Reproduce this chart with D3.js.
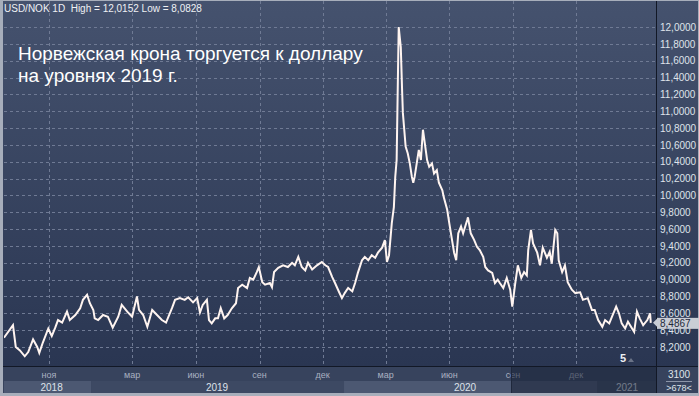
<!DOCTYPE html>
<html>
<head>
<meta charset="utf-8">
<script src="https://cdn.jsdelivr.net/npm/d3@7"></script>
<style>
  html, body { margin: 0; padding: 0; background: #3a4661; }
  svg { display: block; font-family: "Liberation Sans", Arial, sans-serif; }
</style>
</head>
<body>
<div id="chart"></div>
<script>
// USD/NOK, daily closes
var dates = [
  "2018-08-28","2018-09-10","2018-09-14","2018-09-20","2018-09-27","2018-10-02","2018-10-09","2018-10-15","2018-10-18","2018-10-23",
  "2018-10-31","2018-11-05","2018-11-10","2018-11-14","2018-11-20","2018-11-27","2018-12-01","2018-12-09","2018-12-16","2018-12-20",
  "2018-12-26","2018-12-30","2019-01-04","2019-01-06","2019-01-11","2019-01-18","2019-01-25","2019-02-01","2019-02-09","2019-02-14",
  "2019-02-22","2019-03-01","2019-03-08","2019-03-11","2019-03-17","2019-03-23","2019-03-30","2019-04-06","2019-04-13","2019-04-19",
  "2019-04-28","2019-05-02","2019-05-09","2019-05-16","2019-05-21","2019-05-28","2019-06-03","2019-06-07","2019-06-11","2019-06-17",
  "2019-06-20","2019-06-24","2019-06-29","2019-07-03","2019-07-07","2019-07-12","2019-07-17","2019-07-23","2019-07-29","2019-08-01",
  "2019-08-07","2019-08-14","2019-08-18","2019-08-23","2019-08-28","2019-08-31","2019-09-05","2019-09-09","2019-09-16","2019-09-19",
  "2019-09-22","2019-09-28","2019-10-05","2019-10-12","2019-10-18","2019-10-22","2019-10-27","2019-11-01","2019-11-06","2019-11-10",
  "2019-11-16","2019-11-23","2019-11-30","2019-12-05","2019-12-09","2019-12-15","2019-12-19","2019-12-25","2019-12-29","2020-01-02",
  "2020-01-07","2020-01-13","2020-01-17","2020-01-21","2020-01-27","2020-01-31","2020-02-05","2020-02-10","2020-02-15","2020-02-19",
  "2020-02-25","2020-02-29","2020-03-03","2020-03-06","2020-03-10","2020-03-13","2020-03-15","2020-03-17","2020-03-19","2020-03-20",
  "2020-03-23","2020-03-25","2020-03-26","2020-03-28","2020-03-30","2020-04-02","2020-04-05","2020-04-08","2020-04-10","2020-04-12",
  "2020-04-15","2020-04-18","2020-04-21","2020-04-24","2020-04-26","2020-04-30","2020-05-03","2020-05-07","2020-05-10","2020-05-14",
  "2020-05-17","2020-05-22","2020-05-24","2020-05-29","2020-06-01","2020-06-05","2020-06-08","2020-06-11","2020-06-14","2020-06-18",
  "2020-06-21","2020-06-27","2020-06-28","2020-07-02","2020-07-07","2020-07-11","2020-07-15","2020-07-20","2020-07-23","2020-07-27",
  "2020-08-02","2020-08-06","2020-08-10","2020-08-13","2020-08-18","2020-08-23","2020-08-28","2020-08-31","2020-09-04","2020-09-08",
  "2020-09-13","2020-09-17","2020-09-21","2020-09-23","2020-09-27","2020-09-30","2020-10-06","2020-10-10","2020-10-14","2020-10-20",
  "2020-10-24","2020-10-27","2020-11-01","2020-11-04","2020-11-06","2020-11-11","2020-11-15","2020-11-19","2020-11-25","2020-11-30",
  "2020-12-07","2020-12-11","2020-12-18","2020-12-24","2020-12-28","2021-01-02","2021-01-08","2021-01-12","2021-01-18","2021-01-22",
  "2021-01-28","2021-02-01","2021-02-05","2021-02-10","2021-02-14","2021-02-20","2021-02-23","2021-02-27","2021-03-03","2021-03-08",
  "2021-03-14","2021-03-18","2021-03-19"
];
var closes = [
  8.31,8.46,8.20,8.16,8.09,8.14,8.29,8.20,8.13,8.25,
  8.42,8.33,8.43,8.52,8.49,8.62,8.52,8.58,8.66,8.76,
  8.82,8.72,8.64,8.54,8.52,8.58,8.56,8.43,8.56,8.70,
  8.62,8.56,8.80,8.64,8.58,8.44,8.64,8.58,8.52,8.49,
  8.67,8.76,8.78,8.76,8.79,8.73,8.78,8.61,8.70,8.76,
  8.52,8.48,8.54,8.54,8.66,8.54,8.58,8.66,8.72,8.90,
  8.94,8.90,9.02,9.00,9.09,9.15,8.97,8.94,8.96,8.91,
  9.09,9.14,9.17,9.15,9.20,9.17,9.27,9.15,9.11,9.20,
  9.12,9.17,9.21,9.17,9.15,9.03,8.96,8.85,8.78,8.84,
  8.90,8.86,8.96,9.08,9.23,9.27,9.23,9.29,9.26,9.32,
  9.38,9.47,9.21,9.29,9.67,9.86,10.22,10.42,11.49,12.00,
  11.76,11.22,10.98,10.78,10.58,10.50,10.38,10.22,10.15,10.22,
  10.38,10.54,10.42,10.78,10.66,10.42,10.34,10.38,10.26,10.30,
  10.15,10.06,9.98,9.83,9.67,9.47,9.32,9.23,9.55,9.63,
  9.55,9.71,9.74,9.55,9.47,9.39,9.35,9.27,9.15,9.11,
  9.08,8.96,9.00,8.96,8.90,9.02,8.88,8.68,8.94,9.17,
  9.02,9.09,9.05,9.35,9.59,9.43,9.32,9.17,9.38,9.26,
  9.33,9.19,9.59,9.55,9.23,9.09,9.17,8.97,8.88,8.84,
  8.85,8.76,8.78,8.64,8.64,8.52,8.44,8.52,8.48,8.56,
  8.68,8.60,8.48,8.42,8.50,8.42,8.38,8.62,8.54,8.46,
  8.52,8.60,8.4867
];
var priceTicks = [8.2,8.4,8.6,8.8,9.0,9.2,9.4,9.6,9.8,10.0,10.2,10.4,10.6,10.8,11.0,11.2,11.4,11.6,11.8,12.0];
var monthTicks = ["2018-11-01","2019-03-01","2019-06-01","2019-09-01","2019-12-01","2020-03-01","2020-06-01","2020-09-01","2020-12-01"];
var monthNames = ["янв","фев","мар","апр","май","июн","июл","авг","сен","окт","ноя","дек"];
var years = ["2018","2019","2020","2021"];
var headerText = "USD/NOK 1D  High = 12,0152 Low = 8,0828";
var titleLines = ["Норвежская крона торгуется к доллару", "на уровнях 2019 г."];

(function(){
    var width = 699;
    var height = 396;
    var plotLeft = 4, plotRight = 656, plotBottom = 366;
    var parse = d3.timeParse("%Y-%m-%d");
    var ru = d3.formatLocale({decimal: ",", thousands: " ", grouping: [3], currency: ["", ""]});
    var fmt = ru.format(".4f");

    var data = dates.map(function(d, i){ return {date: parse(d), value: closes[i]}; });

    var x = d3.scaleTime()
        .domain([parse("2018-11-01"), parse("2020-12-01")])
        .range([49, 576]);
    var y = d3.scaleLinear()
        .domain([8.2, 12.0])
        .range([347, 27]);

    var svg = d3.select("#chart")
        .append("svg")
        .attr("width", width)
        .attr("height", height);

    var defs = svg.append("defs");
    var grad = defs.append("linearGradient")
        .attr("id", "bg")
        .attr("x1", 0).attr("y1", 0).attr("x2", 0).attr("y2", 1);
    grad.append("stop").attr("offset", "0%").attr("stop-color", "#45526e");
    grad.append("stop").attr("offset", "100%").attr("stop-color", "#2a3652");
    defs.append("clipPath").attr("id", "plotclip")
        .append("rect").attr("x", plotLeft).attr("y", 0)
        .attr("width", plotRight - plotLeft).attr("height", plotBottom);

    // frame + backgrounds
    svg.append("rect").attr("width", width).attr("height", height).attr("fill", "#a7aebb");
    svg.append("rect").attr("x", 3).attr("y", 1).attr("width", width - 4).attr("height", plotBottom - 1)
        .attr("fill", "url(#bg)");
    svg.append("rect").attr("x", 3).attr("y", plotBottom).attr("width", width - 4).attr("height", 27)
        .attr("fill", "#37435d");

    // year bands
    var yearStarts = years.map(function(yy){ return parse(yy + "-01-01"); });
    var bands = svg.append("g");
    years.forEach(function(yy, i){
        var x0 = Math.max(plotLeft, x(yearStarts[i]));
        var x1 = i < years.length - 1 ? x(yearStarts[i + 1]) : plotRight;
        bands.append("rect")
            .attr("x", x0).attr("y", 381)
            .attr("width", x1 - x0).attr("height", 12)
            .attr("fill", i % 2 === 0 ? "#4c5872" : "#3d4963");
        var mid = i === 0 ? (x0 + x1) / 2 + 4 : (i === 3 ? 627 : (i === 1 ? 217 : 465));
        bands.append("text")
            .attr("x", mid).attr("y", 391)
            .attr("text-anchor", "middle")
            .attr("font-size", "10px")
            .attr("fill", "#dde2ea")
            .text(yy);
    });

    // month labels
    svg.append("g").selectAll("text")
        .data(monthTicks)
        .enter().append("text")
        .attr("x", function(d){ return x(parse(d)); })
        .attr("y", 378)
        .attr("text-anchor", "middle")
        .attr("font-size", "9px")
        .attr("fill", "#a9b1c1")
        .text(function(d){ return monthNames[parse(d).getMonth()]; });

    // dark overlay at the right end of the time axis
    svg.append("rect").attr("x", 511).attr("y", plotBottom + 1)
        .attr("width", plotRight - 511).attr("height", 26)
        .attr("fill", "#1a2236").attr("opacity", 0.55);
    svg.append("line").attr("x1", 511.5).attr("x2", 511.5).attr("y1", plotBottom).attr("y2", 393)
        .attr("stroke", "#1f283c");

    // grid
    var grid = svg.append("g").attr("clip-path", "url(#plotclip)");
    grid.selectAll(".hgrid")
        .data(priceTicks)
        .enter().append("line")
        .attr("class", "hgrid")
        .attr("x1", plotLeft).attr("x2", plotRight)
        .attr("y1", function(d){ return Math.round(y(d)) + 0.5; })
        .attr("y2", function(d){ return Math.round(y(d)) + 0.5; })
        .attr("stroke", "#6f7a94")
        .attr("stroke-dasharray", "3,3");
    grid.selectAll(".vgrid")
        .data(monthTicks)
        .enter().append("line")
        .attr("class", "vgrid")
        .attr("x1", function(d){ return Math.round(x(parse(d))) + 0.5; })
        .attr("x2", function(d){ return Math.round(x(parse(d))) + 0.5; })
        .attr("y1", 1).attr("y2", plotBottom)
        .attr("stroke", "#6f7a94")
        .attr("stroke-dasharray", "3,3");

    // header + title
    svg.append("text")
        .attr("x", 4).attr("y", 12)
        .attr("font-size", "10px")
        .attr("fill", "#eef0f4")
        .attr("xml:space", "preserve")
        .text(headerText);
    svg.append("g").selectAll("text")
        .data(titleLines)
        .enter().append("text")
        .attr("x", 18)
        .attr("y", function(d, i){ return 60 + i * 22; })
        .attr("font-size", "19px")
        .attr("fill", "#ffffff")
        .text(function(d){ return d; });

    // price line
    var line = d3.line()
        .x(function(d){ return x(d.date); })
        .y(function(d){ return y(d.value); });
    svg.append("path")
        .datum(data)
        .attr("clip-path", "url(#plotclip)")
        .attr("fill", "none")
        .attr("stroke", "#fff4f0")
        .attr("stroke-width", 2)
        .attr("stroke-linejoin", "miter")
        .attr("d", line);

    // right axis
    var last = data[data.length - 1];
    var yAxis = d3.axisRight(y)
        .tickValues(priceTicks)
        .tickSize(0)
        .tickPadding(4)
        .tickFormat(fmt);
    var ax = svg.append("g")
        .attr("transform", "translate(" + plotRight + ",0)")
        .call(yAxis);
    ax.select(".domain").remove();
    ax.selectAll("text")
        .attr("font-family", "Liberation Sans, Arial, sans-serif")
        .attr("font-size", "10px")
        .attr("fill", "#dfe3ea");

    svg.append("line").attr("x1", plotRight + 0.5).attr("x2", plotRight + 0.5)
        .attr("y1", 1).attr("y2", 393).attr("stroke", "#121826");
    svg.append("line").attr("x1", 3).attr("x2", width - 1)
        .attr("y1", plotBottom + 0.5).attr("y2", plotBottom + 0.5).attr("stroke", "#121826");

    // last price tag, partly covering the 8,4000 label as in the original
    var ty = y(last.value);
    svg.append("path")
        .attr("d", "M" + (plotRight - 3) + "," + ty + "L" + (plotRight + 2) + "," + (ty - 5) + "L" + (plotRight + 2) + "," + (ty + 5) + "Z")
        .attr("fill", "#c9cdd5");
    svg.append("rect")
        .attr("x", plotRight + 1).attr("y", ty - 5)
        .attr("width", 42).attr("height", 11)
        .attr("fill", "#c9cdd5");
    svg.append("text")
        .attr("x", plotRight + 4).attr("y", ty + 4)
        .attr("font-size", "10px")
        .attr("fill", "#232a3a")
        .text(fmt(last.value));

    // small "5" marker
    svg.append("text")
        .attr("x", 626).attr("y", 362)
        .attr("text-anchor", "end")
        .attr("font-size", "11px")
        .attr("font-weight", "bold")
        .attr("fill", "#eef0f4")
        .text("5");
    svg.append("path")
        .attr("d", "M628,362L631,358L634,362Z")
        .attr("fill", "#6b7488");

    // bottom right panel
    svg.append("text").attr("x", 679).attr("y", 378).attr("text-anchor", "middle")
        .attr("font-size", "10px").attr("fill", "#dfe3ea").text("3100");
    svg.append("line").attr("x1", 666).attr("x2", 692).attr("y1", 381.5).attr("y2", 381.5)
        .attr("stroke", "#8c95a8");
    svg.append("text").attr("x", 679).attr("y", 391).attr("text-anchor", "middle")
        .attr("font-size", "9px").attr("fill", "#dfe3ea").text(">678<");
})();
</script>
</body>
</html>
